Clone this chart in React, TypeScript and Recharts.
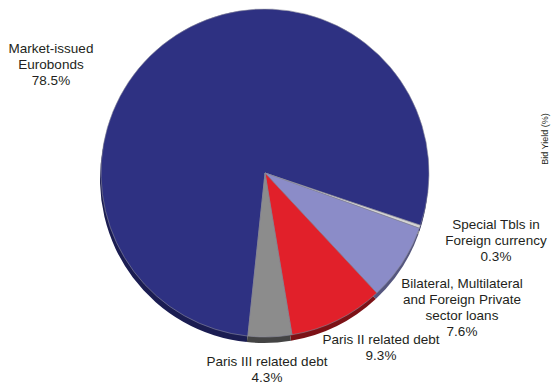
import React from "react";
import { PieChart, Pie, Cell } from "recharts";

const names = [
  "Market-issued Eurobonds",
  "Special Tbls in Foreign currency",
  "Bilateral, Multilateral and Foreign Private sector loans",
  "Paris II related debt",
  "Paris III related debt",
];
const shares = [78.5, 0.3, 7.6, 9.3, 4.3];
const labelLines = [
  ["Market-issued", "Eurobonds"],
  ["Special Tbls in", "Foreign currency"],
  ["Bilateral, Multilateral", "and Foreign Private", "sector loans"],
  ["Paris II related debt"],
  ["Paris III related debt"],
];

const colors = ["#2e3182", "#d4d4d4", "#8b8cc8", "#e1202a", "#8c8c8c"];
const rimColors = ["#1b1d52", "#8a8a8a", "#55567e", "#7c1116", "#444444"];

// where each label block sits (centre x, first line y)
const labelPos: Record<string, { x: number; y: number }> = {
  "Market-issued Eurobonds": { x: 51, y: 53 },
  "Special Tbls in Foreign currency": { x: 496, y: 229 },
  "Bilateral, Multilateral and Foreign Private sector loans": { x: 462, y: 288 },
  "Paris II related debt": { x: 381, y: 344 },
  "Paris III related debt": { x: 267, y: 366 },
};

const data = names.map((name, i) => ({
  name,
  value: shares[i],
  lines: labelLines[i],
}));

const CX = 265;
const CY = 173;
const R = 164;

function renderLabel(props: any) {
  const entry = props.payload ?? props;
  const pos = labelPos[entry.name];
  if (!pos) return null;
  const lines: string[] = entry.lines ?? [];
  return (
    <text
      x={pos.x}
      y={pos.y}
      textAnchor="middle"
      fill="#231f20"
      fontSize={13.5}
      fontFamily="Liberation Sans, Arial, sans-serif"
    >
      {lines.map((l, i) => (
        <tspan key={i} x={pos.x} dy={i === 0 ? 0 : 16}>
          {l}
        </tspan>
      ))}
      <tspan x={pos.x} dy={16}>
        {entry.value.toFixed(1)}%
      </tspan>
    </text>
  );
}

export default function App() {
  return (
    <div style={{ position: "absolute", left: 0, top: 0, width: 551, height: 385, background: "#fff" }}>
      <PieChart width={551} height={385} margin={{ top: 0, right: 0, bottom: 0, left: 0 }}>
        <Pie
          data={data}
          dataKey="value"
          cx={CX - 1}
          cy={CY + 6}
          outerRadius={R}
          startAngle={-96}
          endAngle={-456}
          stroke="none"
          isAnimationActive={false}
          label={false}
        >
          {data.map((d, i) => (
            <Cell key={d.name} fill={rimColors[i]} />
          ))}
        </Pie>
        <Pie
          data={data}
          dataKey="value"
          cx={CX}
          cy={CY}
          outerRadius={R}
          startAngle={-96}
          endAngle={-456}
          stroke="#8a8a9a"
          strokeWidth={0.6}
          isAnimationActive={false}
          labelLine={false}
          label={renderLabel}
        >
          {data.map((d, i) => (
            <Cell key={d.name} fill={colors[i]} />
          ))}
        </Pie>
      </PieChart>
      <svg
        width={551}
        height={385}
        style={{ position: "absolute", left: 0, top: 0, pointerEvents: "none" }}
      >
        <text
          x={0}
          y={0}
          transform="translate(548,139) rotate(-90)"
          textAnchor="middle"
          fontSize={9}
          fill="#231f20"
          fontFamily="Liberation Sans, Arial, sans-serif"
        >
          Bid Yield (%)
        </text>
      </svg>
    </div>
  );
}
